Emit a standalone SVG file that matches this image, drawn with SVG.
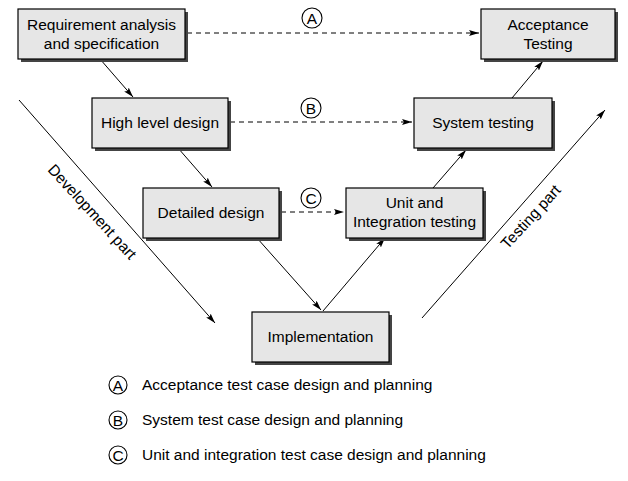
<svg xmlns="http://www.w3.org/2000/svg" width="628" height="481" viewBox="0 0 628 481">
<style>
.box{fill:#e6e6e6;stroke:#000;stroke-width:1.2}
.sh{fill:#444}
text{font-family:"Liberation Sans",Arial,sans-serif;font-size:15.5px;fill:#000}
.c{text-anchor:middle}
.ln{stroke:#000;stroke-width:1;fill:none}
.dl{stroke:#000;stroke-width:1;fill:none;stroke-dasharray:5 4}
.circ{fill:#fff;stroke:#000;stroke-width:1.1}
</style>
<defs>
<marker id="ah" viewBox="0 0 10 6" refX="10" refY="3" markerWidth="10" markerHeight="6" markerUnits="userSpaceOnUse" orient="auto">
<path d="M0,0 L10,3 L0,6 L2,3 z" fill="#000"/>
</marker>
</defs>
<rect width="628" height="481" fill="#fff"/>

<g id="connectors">
<line class="dl" x1="187" y1="33" x2="479" y2="33" marker-end="url(#ah)"/>
<line class="dl" x1="230" y1="122" x2="412" y2="122" marker-end="url(#ah)"/>
<line class="dl" x1="281" y1="212" x2="344" y2="212" marker-end="url(#ah)"/>
<line class="ln" x1="100" y1="59" x2="133" y2="97" marker-end="url(#ah)"/>
<line class="ln" x1="178" y1="148" x2="212" y2="187" marker-end="url(#ah)"/>
<line class="ln" x1="257" y1="238" x2="321" y2="310" marker-end="url(#ah)"/>
<line class="ln" x1="323" y1="311" x2="385" y2="238" marker-end="url(#ah)"/>
<line class="ln" x1="433" y1="188" x2="466" y2="150" marker-end="url(#ah)"/>
<line class="ln" x1="512" y1="98" x2="543" y2="61" marker-end="url(#ah)"/>
<line class="ln" x1="19" y1="100" x2="215" y2="323" marker-end="url(#ah)"/>
<line class="ln" x1="422" y1="318" x2="605" y2="110" marker-end="url(#ah)"/>
</g>

<g id="labelA"><circle class="circ" cx="312" cy="18" r="10"/><text class="c" x="312" y="23.5">A</text></g>
<g id="labelB"><circle class="circ" cx="311" cy="108" r="10"/><text class="c" x="311" y="113.5">B</text></g>
<g id="labelC"><circle class="circ" cx="311" cy="198" r="10"/><text class="c" x="311" y="203.5">C</text></g>

<g id="req">
<rect class="sh" x="21" y="12" width="167" height="50"/>
<rect class="box" x="18" y="9" width="167" height="50"/>
<text class="c" x="101.5" y="30">Requirement analysis</text>
<text class="c" x="101.5" y="49">and specification</text>
</g>
<g id="acc">
<rect class="sh" x="484" y="12" width="134" height="50"/>
<rect class="box" x="481" y="9" width="134" height="50"/>
<text class="c" x="548" y="30">Acceptance</text>
<text class="c" x="548" y="49">Testing</text>
</g>
<g id="hld">
<rect class="sh" x="95" y="101" width="136" height="50"/>
<rect class="box" x="92" y="98" width="136" height="50"/>
<text class="c" x="160" y="128">High level design</text>
</g>
<g id="sys">
<rect class="sh" x="417" y="101" width="138" height="50"/>
<rect class="box" x="414" y="98" width="138" height="50"/>
<text class="c" x="483" y="128">System testing</text>
</g>
<g id="dd">
<rect class="sh" x="146" y="191" width="136" height="50"/>
<rect class="box" x="143" y="188" width="136" height="50"/>
<text class="c" x="211" y="218">Detailed design</text>
</g>
<g id="unit">
<rect class="sh" x="349" y="191" width="137" height="50"/>
<rect class="box" x="346" y="188" width="137" height="50"/>
<text class="c" x="414.5" y="208">Unit and</text>
<text class="c" x="414.5" y="227">Integration testing</text>
</g>
<g id="impl">
<rect class="sh" x="255" y="315" width="137" height="50"/>
<rect class="box" x="252" y="312" width="137" height="50"/>
<text class="c" x="320.5" y="342">Implementation</text>
</g>

<g id="devpart"><text class="c" transform="translate(92,212) rotate(47.5)" x="0" y="5">Development part</text></g>
<g id="testpart"><text class="c" transform="translate(531,217) rotate(-47.5)" x="0" y="5">Testing part</text></g>

<g id="legend">
<circle class="circ" cx="118" cy="385" r="9"/><text class="c" x="118" y="390.5">A</text>
<text x="142" y="390">Acceptance test case design and planning</text>
<circle class="circ" cx="118" cy="420" r="9"/><text class="c" x="118" y="425.5">B</text>
<text x="142" y="425">System test case design and planning</text>
<circle class="circ" cx="118" cy="455" r="9"/><text class="c" x="118" y="460.5">C</text>
<text x="142" y="460">Unit and integration test case design and planning</text>
</g>
</svg>
